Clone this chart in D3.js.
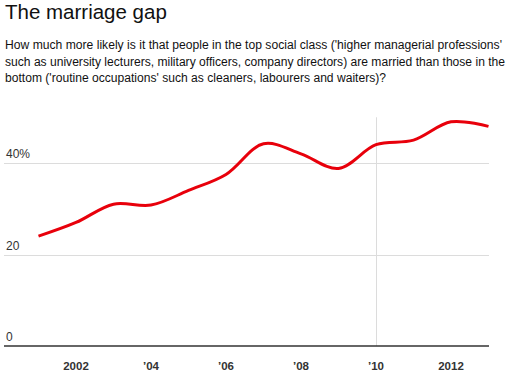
<!DOCTYPE html>
<html><head><meta charset="utf-8">
<script src="https://cdn.jsdelivr.net/npm/d3@7"></script>
<style>
body{margin:0;background:#fff;}
svg{display:block;font-family:"Liberation Sans",Arial,Helvetica,sans-serif;}
</style></head>
<body><svg id="c" width="516" height="382"></svg>
<script>
const years = [2001,2002,2003,2004,2005,2006,2007,2008,2009,2010,2011,2012,2013];
const gap = [24.0,27.0,31.0,30.8,34.0,37.5,44.2,42.0,38.8,44.0,45.0,49.0,48.0];
const yTicks = [0,20,40];
const yTickLabels = ["0","20","40%"];
const xTicks = [2002,2004,2006,2008,2010,2012];
const xTickLabels = ["2002","\u201904","\u201906","\u201908","\u201910","2012"];
const title = "The marriage gap";
const subtitle = [
 "How much more likely is it that people in the top social class ('higher managerial professions'",
 "such as university lecturers, military officers, company directors) are married than those in the",
 "bottom ('routine occupations' such as cleaners, labourers and waiters)?"
];
const subWidths = [497, 500, 381];

const svg = d3.select("#c");
const x = d3.scaleLinear().domain([2001,2013]).range([38.5,488.5]);
const y = d3.scaleLinear().domain([0,50]).range([346,117.25]);
const gx0 = 4, gx1 = 489;

svg.append("text").attr("x",5).attr("y",19).attr("font-size",20.5).attr("fill","#111").text(title);
svg.selectAll("text.sub").data(subtitle).enter().append("text").attr("class","sub")
  .attr("x",5).attr("y",(d,i)=>49+i*16.7).attr("font-size",12).attr("fill","#111")
  .attr("textLength",(d,i)=>subWidths[i]).attr("lengthAdjust","spacingAndGlyphs").text(d=>d);

// gridlines
svg.selectAll("line.grid").data(yTicks.filter(d=>d>0)).enter().append("line")
  .attr("x1",gx0).attr("x2",gx1).attr("y1",d=>Math.round(y(d))+0.5).attr("y2",d=>Math.round(y(d))+0.5)
  .attr("stroke","#dcdcdc").attr("stroke-width",1);
// vertical line at 2010
svg.append("line").attr("x1",Math.round(x(2010))+0.5).attr("x2",Math.round(x(2010))+0.5)
  .attr("y1",y(50)).attr("y2",y(0)).attr("stroke","#dcdcdc");
// baseline
svg.append("line").attr("x1",gx0).attr("x2",gx1).attr("y1",y(0)).attr("y2",y(0))
  .attr("stroke","#333").attr("stroke-width",1.3);

// y labels
svg.selectAll("text.yl").data(yTicks).enter().append("text").attr("class","yl")
  .attr("x",6).attr("y",d=>y(d)-5).attr("font-size",12).attr("fill","#333")
  .text((d,i)=>yTickLabels[i]);

// x labels
svg.selectAll("text.xl").data(xTicks).enter().append("text").attr("class","xl")
  .attr("x",d=>x(d)).attr("y",370).attr("text-anchor","middle").attr("font-size",11.5)
  .attr("font-weight","bold").attr("fill","#333").text((d,i)=>xTickLabels[i]);

// line
const line = d3.line().x((d,i)=>x(years[i])).y(d=>y(d)).curve(d3.curveCatmullRom.alpha(0.5));
svg.append("path").datum(gap).attr("d",line).attr("fill","none")
  .attr("stroke","#e8000b").attr("stroke-width",3).attr("stroke-linecap","butt");
</script></body></html>
